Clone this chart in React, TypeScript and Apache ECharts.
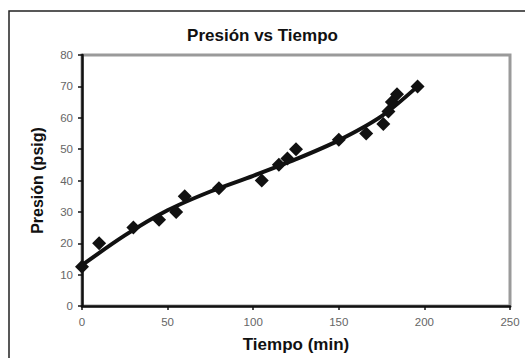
import React, { useEffect, useRef } from "react";
import * as echarts from "echarts";

const chartTitle = "Presión vs Tiempo";
const xAxisTitle = "Tiempo (min)";
const yAxisTitle = "Presión (psig)";

const tiempo = [0, 10, 30, 45, 55, 60, 80, 105, 115, 120, 125, 150, 166, 176, 179, 181, 184, 196];
const presion = [12.5, 20, 25, 27.5, 30, 35, 37.5, 40, 45, 47, 50, 53, 55, 58, 62, 65, 67.5, 70];

const trendX = [0, 25, 50, 75, 100, 125, 150, 175, 196];
const trendY = [13, 22.5, 30.5, 36.5, 41.5, 46.8, 52.8, 60.5, 70];

export default function App() {
  const ref = useRef<HTMLDivElement>(null);
  useEffect(() => {
    if (!ref.current) return;
    const chart = echarts.init(ref.current, undefined, { renderer: "svg" });
    const font = "'Liberation Sans', Arial, sans-serif";
    chart.setOption({
      animation: false,
      backgroundColor: "#ffffff",
      title: {
        text: chartTitle,
        left: "center",
        top: 22,
        textStyle: { fontFamily: font, fontSize: 17, fontWeight: "bold", color: "#111" },
      },
      graphic: [
        {
          type: "rect",
          shape: { x: 9, y: 11, width: 540, height: 380 },
          style: { fill: "none", stroke: "#222", lineWidth: 1.5 },
          silent: true,
        },
      ],
      grid: {
        left: 82,
        top: 55,
        right: 15,
        bottom: 50,
        show: true,
        borderColor: "#9a9a9a",
        borderWidth: 3,
      },
      xAxis: {
        type: "value",
        min: 0,
        max: 250,
        interval: 50,
        name: xAxisTitle,
        nameLocation: "middle",
        nameGap: 30,
        nameTextStyle: { fontFamily: font, fontSize: 17, fontWeight: "bold", color: "#111" },
        axisLine: { lineStyle: { color: "#111", width: 2.5 } },
        axisTick: { show: true, inside: false, length: 4, lineStyle: { color: "#111", width: 1.5 } },
        axisLabel: { fontFamily: font, fontSize: 11.5, color: "#666", margin: 10 },
        splitLine: { show: false },
      },
      yAxis: {
        type: "value",
        min: 0,
        max: 80,
        interval: 10,
        name: yAxisTitle,
        nameLocation: "middle",
        nameGap: 37,
        nameTextStyle: { fontFamily: font, fontSize: 16, fontWeight: "bold", color: "#111" },
        axisLine: { show: true, lineStyle: { color: "#111", width: 2.5 } },
        axisTick: { show: true, inside: false, length: 4, lineStyle: { color: "#111", width: 1.5 } },
        axisLabel: { fontFamily: font, fontSize: 11.5, color: "#666", margin: 9 },
        splitLine: { show: false },
      },
      series: [
        {
          type: "line",
          data: trendX.map((x, i) => [x, trendY[i]]),
          smooth: 0.3,
          showSymbol: false,
          symbol: "none",
          lineStyle: { color: "#111", width: 4 },
          z: 3,
        },
        {
          type: "scatter",
          data: tiempo.map((t, i) => [t, presion[i]]),
          symbol: "diamond",
          symbolSize: 14,
          itemStyle: { color: "#111", opacity: 1 },
          z: 4,
        },
      ],
    });
    return () => chart.dispose();
  }, []);
  return (
    <div
      ref={ref}
      style={{ position: "fixed", left: 0, top: 0, width: 525, height: 358 }}
    />
  );
}
